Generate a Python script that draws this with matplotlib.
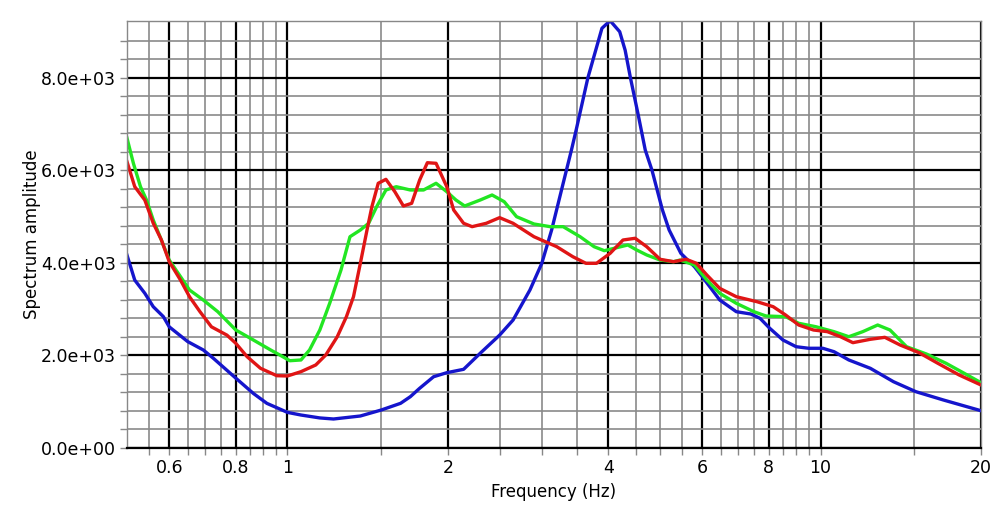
import numpy as np
import matplotlib
matplotlib.use("Agg")
import matplotlib.pyplot as plt
from matplotlib.ticker import FixedLocator, FuncFormatter

# blue series
f_blue = [0.5, 0.517, 0.54, 0.56, 0.585, 0.6, 0.65, 0.695, 0.726, 0.8, 0.863, 0.915, 1.0,
          1.06, 1.15, 1.22, 1.37, 1.5, 1.63, 1.7, 1.77, 1.88, 1.99, 2.14, 2.3, 2.5, 2.65,
          2.85, 3.0, 3.13, 3.29, 3.41, 3.48, 3.66, 3.89, 4.03, 4.2, 4.3, 4.4, 4.55, 4.69,
          4.83, 5.05, 5.2, 5.47, 5.8, 6.03, 6.47, 6.95, 7.4, 7.7, 8.03, 8.5, 9.0, 9.5, 10.1,
          10.6, 11.3, 12.4, 13.7, 15.1, 17.0, 20.0]
a_blue = [4170, 3630, 3345, 3055, 2840, 2620, 2300, 2120, 1940, 1510, 1180, 965, 770,
          713, 650, 627, 692, 822, 966, 1109, 1291, 1541, 1628, 1701, 2050, 2440, 2767,
          3416, 3993, 4713, 5723, 6443, 6875, 8000, 9074, 9238, 9000, 8600, 8000, 7200, 6443,
          6000, 5150, 4713, 4209, 3920, 3669, 3200, 2947, 2897, 2804, 2588, 2335, 2190, 2156, 2156,
          2082, 1903, 1723, 1434, 1217, 1038, 806]

# red series
f_red = [0.5, 0.517, 0.54, 0.56, 0.58, 0.6, 0.63, 0.655, 0.685, 0.72, 0.77, 0.8, 0.84,
         0.89, 0.955, 1.0, 1.06, 1.13, 1.18, 1.24, 1.29, 1.33, 1.37, 1.41, 1.44, 1.48,
         1.53, 1.59, 1.65, 1.71, 1.77, 1.83, 1.9, 1.99, 2.05, 2.14, 2.22, 2.36, 2.5, 2.65,
         2.9, 3.2, 3.43, 3.63, 3.8, 4.03, 4.26, 4.49, 4.72, 5.0, 5.3, 5.6, 5.85, 6.12,
         6.47, 6.95, 7.6, 8.15, 8.6, 9.1, 9.7, 10.3, 10.9, 11.5, 12.4, 13.2, 14.1, 15.3,
         16.6, 18.2, 20.0]
a_red = [6190, 5650, 5360, 4860, 4500, 4030, 3630, 3270, 2950, 2620, 2440, 2263, 1974,
         1723, 1563, 1557, 1650, 1795, 2011, 2406, 2839, 3271, 3993, 4713, 5217, 5723,
         5809, 5541, 5232, 5290, 5794, 6168, 6155, 5649, 5146, 4858, 4785, 4858, 4980, 4858,
         4568, 4352, 4136, 3993, 3993, 4209, 4497, 4534, 4352, 4080, 4028, 4080, 3993, 3740,
         3452, 3271, 3163, 3055, 2875, 2659, 2551, 2515, 2406, 2277, 2350, 2393, 2227, 2061,
         1831, 1578, 1362]

# green series
f_green = [0.5, 0.514, 0.53, 0.544, 0.56, 0.58, 0.6, 0.63, 0.655, 0.695, 0.74, 0.8, 0.863,
           0.93, 0.98, 1.01, 1.06, 1.1, 1.15, 1.2, 1.26, 1.31, 1.37, 1.42, 1.47, 1.53,
           1.6, 1.7, 1.8, 1.9, 1.99, 2.07, 2.15, 2.3, 2.42, 2.55, 2.69, 2.9, 3.11, 3.29,
           3.54, 3.76, 3.93, 4.1, 4.35, 4.52, 4.72, 5.0, 5.3, 5.45, 5.8, 6.12, 6.47, 6.95,
           7.5, 7.9, 8.6, 9.1, 9.8, 10.6, 11.3, 12.0, 12.8, 13.5, 14.5, 15.8, 17.2, 18.6, 20.0]
a_green = [6700, 6155, 5649, 5362, 4929, 4497, 4064, 3704, 3416, 3200, 2947, 2551, 2335,
           2119, 1974, 1887, 1903, 2119, 2551, 3128, 3848, 4568, 4713, 4858, 5217, 5578,
           5649, 5578, 5578, 5723, 5541, 5362, 5232, 5362, 5470, 5325, 5001, 4843, 4785, 4785,
           4568, 4352, 4266, 4317, 4389, 4281, 4173, 4064, 4028, 4064, 3956, 3632, 3344, 3128,
           2947, 2854, 2839, 2696, 2622, 2515, 2406, 2515, 2659, 2551, 2190, 2032, 1831, 1615, 1412]

x_major = [0.6, 0.8, 1, 2, 4, 6, 8, 10, 20]
x_major_labels = ["0.6", "0.8", "1", "2", "4", "6", "8", "10", "20"]
x_minor = [0.55, 0.65, 0.7, 0.75, 0.85, 0.9, 0.95, 1.5, 2.5, 3, 3.5, 4.5, 5, 5.5,
           6.5, 7, 7.5, 8.5, 9, 9.5, 15]
y_major = [0, 2000, 4000, 6000, 8000]
y_minor = [v for v in range(400, 9200, 400) if v % 2000 != 0]

plt.rcParams['font.family'] = ['DejaVu Sans']
fig = plt.figure(figsize=(10.02, 5.21), dpi=100)
ax = fig.add_axes([127 / 1002, 1 - 448 / 521, (981 - 127) / 1002, (448 - 20.7) / 521])

ax.set_xscale('log')
ax.set_xlim(0.5, 20)
ax.set_ylim(0, max(a_blue))

ax.xaxis.set_major_locator(FixedLocator(x_major))
ax.xaxis.set_minor_locator(FixedLocator(x_minor))
ax.xaxis.set_major_formatter(FuncFormatter(lambda v, p: x_major_labels[x_major.index(v)] if v in x_major else ""))
ax.xaxis.set_minor_formatter(FuncFormatter(lambda v, p: ""))
ax.yaxis.set_major_locator(FixedLocator(y_major))
ax.yaxis.set_minor_locator(FixedLocator(y_minor))
ax.yaxis.set_major_formatter(FuncFormatter(lambda v, p: "%.1e" % v))

ax.grid(which='minor', color='#8a8a8a', linewidth=1.2)
ax.grid(which='major', color='black', linewidth=1.6)
ax.set_axisbelow(True)

ax.tick_params(which='both', color='#888888', length=5, width=1)
ax.tick_params(which='major', labelsize=12.5, pad=3)
for s in ax.spines.values():
    s.set_color('#888888')
    s.set_linewidth(1)
ax.spines['bottom'].set_color('black')
ax.spines['bottom'].set_linewidth(1.6)

ax.plot(f_blue, a_blue, color='#1515cc', linewidth=2.4, solid_joinstyle='round')
ax.plot(f_green, a_green, color='#22e622', linewidth=2.4, solid_joinstyle='round')
ax.plot(f_red, a_red, color='#e01515', linewidth=2.4, solid_joinstyle='round')

ax.set_xlabel('Frequency (Hz)', fontsize=12)
ax.set_ylabel('Spectrum amplitude', fontsize=12, labelpad=0)

fig.savefig('out.png', dpi=100)
